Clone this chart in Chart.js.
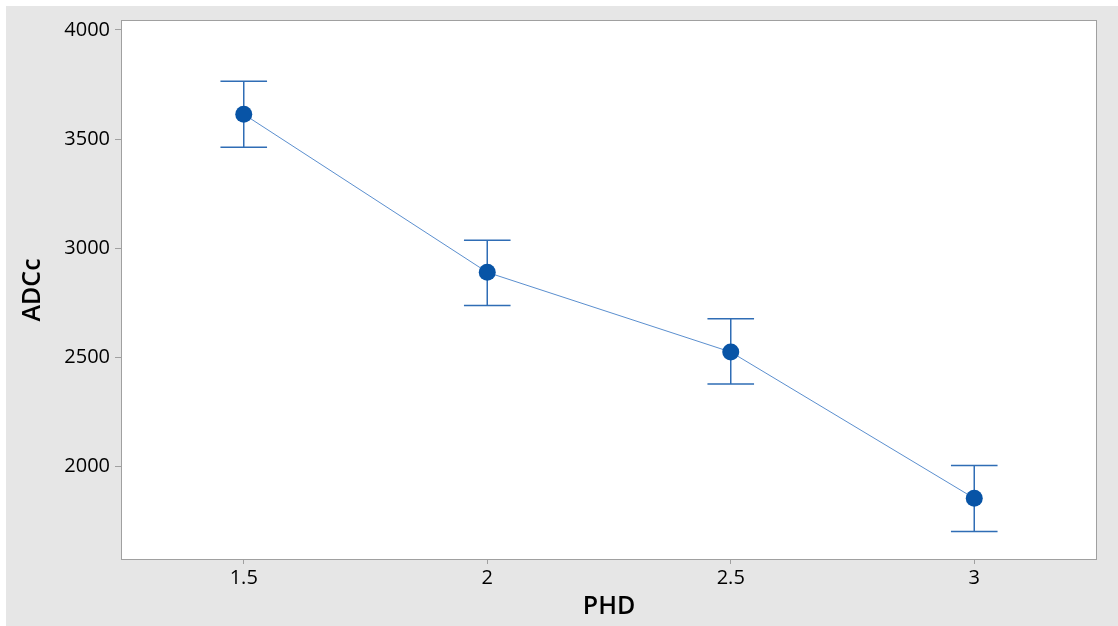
<!DOCTYPE html>
<html><head><meta charset="utf-8">
<script src="https://cdn.jsdelivr.net/npm/chart.js@4"></script>
<style>html,body{margin:0;padding:0;background:#fff;overflow:hidden}</style>
</head><body>
<canvas id="c" width="1118" height="626" style="display:block;width:1118px;height:626px"></canvas>
<script>
const phd = [1.5, 2, 2.5, 3];
const adcMean = [3614, 2890, 2525, 1855];
const adcUpper = [3765, 3037, 2677, 2005];
const adcLower = [3463, 2738, 2378, 1703];
const yTicks = [2000, 2500, 3000, 3500, 4000];
const xTicks = [1.5, 2, 2.5, 3];
const xTitle = 'PHD';
const yTitle = 'ADCc';

const FONT = '"Open Sans", "Noto Sans", sans-serif';

const bgPlugin = {
  id: 'bg',
  beforeDraw(chart) {
    const {ctx, width, height, chartArea: a} = chart;
    ctx.save();
    ctx.fillStyle = '#ffffff';
    ctx.fillRect(0, 0, width, height);
    ctx.fillStyle = '#e6e6e6';
    ctx.fillRect(6, 6, width - 6, height - 6);
    ctx.fillStyle = '#ffffff';
    ctx.fillRect(a.left, a.top, a.right - a.left, a.bottom - a.top);
    ctx.strokeStyle = '#a0a0a0';
    ctx.lineWidth = 1;
    ctx.strokeRect(Math.round(a.left) - 0.5, Math.round(a.top) - 0.5, Math.round(a.right - a.left) + 1, Math.round(a.bottom - a.top) + 1);
    ctx.restore();
  }
};

const errPlugin = {
  id: 'errbars',
  beforeDatasetsDraw(chart) {
    const {ctx, scales: {x, y}} = chart;
    ctx.save();
    ctx.strokeStyle = '#2f6db5';
    ctx.lineWidth = 1.5;
    const cap = 23.3;
    for (let i = 0; i < phd.length; i++) {
      const px = x.getPixelForValue(phd[i]);
      const pu = y.getPixelForValue(adcUpper[i]);
      const pl = y.getPixelForValue(adcLower[i]);
      ctx.beginPath();
      ctx.moveTo(px, pu); ctx.lineTo(px, pl);
      ctx.moveTo(px - cap, pu); ctx.lineTo(px + cap, pu);
      ctx.moveTo(px - cap, pl); ctx.lineTo(px + cap, pl);
      ctx.stroke();
    }
    ctx.restore();
  }
};

new Chart(document.getElementById('c'), {
  type: 'line',
  data: {
    datasets: [{
      data: phd.map((v, i) => ({x: v, y: adcMean[i]})),
      borderColor: '#5b8fcf',
      borderWidth: 1,
      pointRadius: 8.5,
      pointHoverRadius: 8.5,
      pointBackgroundColor: '#0854a6',
      pointBorderColor: '#0854a6',
      pointBorderWidth: 0,
      tension: 0,
      fill: false
    }]
  },
  options: {
    responsive: false,
    animation: false,
    events: [],
    layout: {padding: {left: 6, top: 21, right: 22, bottom: 0}},
    plugins: {legend: {display: false}, tooltip: {enabled: false}},
    scales: {
      x: {
        type: 'linear',
        min: 1.25,
        max: 3.25,
        afterBuildTicks: s => { s.ticks = xTicks.map(v => ({value: v})); },
        afterFit: s => { s.height = 67; },
        ticks: {
          font: {family: FONT, size: 20},
          color: '#000',
          padding: 2,
          maxRotation: 0,
          autoSkip: false,
          callback: v => String(v)
        },
        grid: {drawOnChartArea: false, drawTicks: true, tickLength: 5, tickColor: '#a0a0a0', tickWidth: 1},
        border: {display: false},
        title: {display: true, text: xTitle, font: {family: FONT, size: 25, weight: '600'}, color: '#000', padding: {top: 0, bottom: 4}}
      },
      y: {
        type: 'linear',
        min: 1577,
        max: 4041,
        afterBuildTicks: s => { s.ticks = yTicks.map(v => ({value: v})); },
        afterFit: s => { s.width = 116; },
        ticks: {
          font: {family: FONT, size: 20},
          color: '#000',
          padding: 5,
          autoSkip: false,
          callback: v => String(v)
        },
        grid: {drawOnChartArea: false, drawTicks: true, tickLength: 7, tickColor: '#a0a0a0', tickWidth: 1},
        border: {display: false},
        title: {display: true, text: yTitle, font: {family: FONT, size: 25, weight: '600'}, color: '#000', padding: {top: 12, bottom: 0}}
      }
    }
  },
  plugins: [bgPlugin, errPlugin]
});
</script>
</body></html>
